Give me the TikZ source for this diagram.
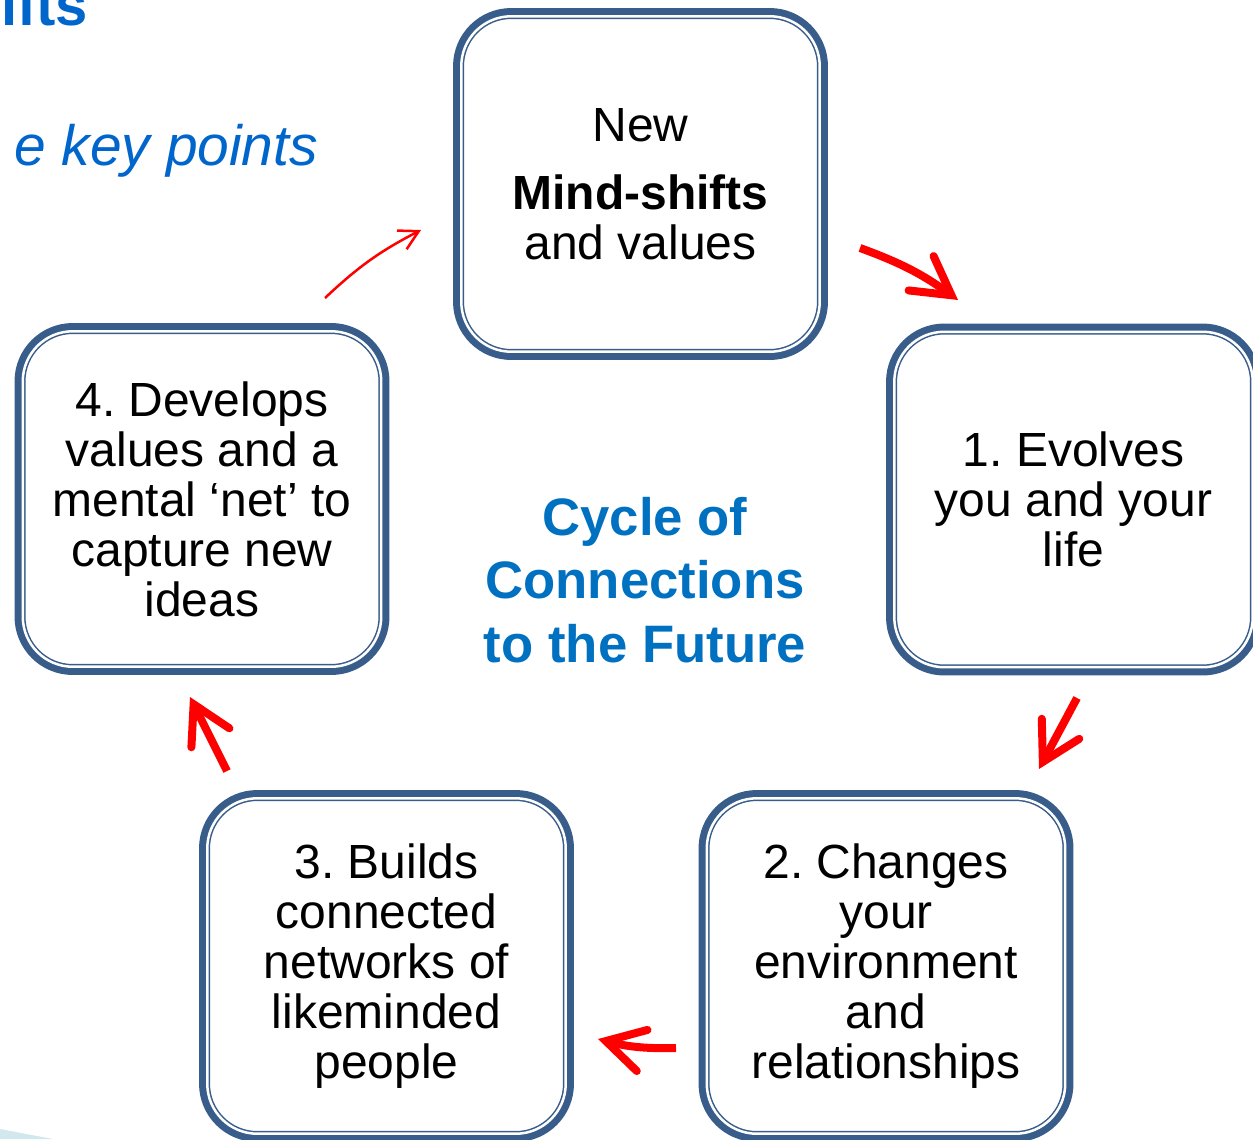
\documentclass[tikz,border=0pt]{standalone}
\usepackage{fontspec}
\setmainfont{Liberation Sans}
\usepackage{xcolor}
\definecolor{boxBlue}{HTML}{385D8A}
\definecolor{titleBlue}{HTML}{0066CC}
\definecolor{cycleBlue}{HTML}{0070C0}
\definecolor{arrowRed}{HTML}{FF0000}
\definecolor{paleBlue}{HTML}{D3E7EF}
\usepackage{tikz}
\usetikzlibrary{positioning}
\usetikzlibrary{arrows.meta}
\frenchspacing

\begin{document}
\begin{tikzpicture}[
	box/.style = { rectangle, rounded corners = 1cm, fill = white, draw = boxBlue, line width = 0.11cm, preaction = {draw = boxBlue, line width = 0.33cm}, postaction = {draw = white, line width = 0.05cm}, minimum width = 7.17cm, minimum height = 6.71cm, inner sep = 0pt, align = center, text = black, font = \fontsize{27.3}{28.45}\selectfont },
	cycle/.style = { align = center, text = cycleBlue, font = \bfseries\fontsize{30}{36.1}\selectfont },
	heading/.style = { inner sep = 0pt, outer sep = 0pt, text = titleBlue },
	flow/.style = { arrowRed, line width = 0.16cm, -{Straight Barb[length = 0.75cm, width = 0.85cm, line cap = round]} },
	hint/.style = { arrowRed, line width = 0.05cm, -{Straight Barb[length = 0.38cm, width = 0.42cm]} },
	]
	\def\oneUnit{0.02cm}
	
	\useasboundingbox (0,0) rectangle (1253*\oneUnit,-1139*\oneUnit);
	
	\fill[paleBlue] (0,-1129*\oneUnit) -- (53*\oneUnit,-1139*\oneUnit) -- (0,-1139*\oneUnit) -- cycle;
	
	\node[heading, anchor = base east, font = \bfseries\fontsize{33}{40}\selectfont] (titleIFTS) at (88*\oneUnit,-25*\oneUnit) {ifts};
	\node[heading, anchor = base east, font = \itshape\fontsize{32.4}{39}\selectfont] (titleKEY) at (318*\oneUnit,-165*\oneUnit) {e key points};
	
	\node[box] (NEW) at (640.5*\oneUnit,-184*\oneUnit) {New\\[0.36cm]\textbf{Mind-shifts}\\and values};
	\node[box] (EVOLVES) at (1073.5*\oneUnit,-499.5*\oneUnit) {1. Evolves\\you and your\\life};
	\node[box] (CHANGES) at (886*\oneUnit,-966*\oneUnit) {2. Changes\\your\\environment\\and\\relationships};
	\node[box] (BUILDS) at (386.5*\oneUnit,-966*\oneUnit) {3. Builds\\connected\\networks of\\likeminded\\people};
	\node[box] (DEVELOPS) at (202*\oneUnit,-499*\oneUnit) {4. Develops\\values and a\\mental ‘net’ to\\capture new\\ideas};
	
	\node[cycle] (CYCLE) at (645*\oneUnit,-580*\oneUnit) {Cycle of\\Connections\\to the Future};
	
	\coordinate (arr1Start) at (860*\oneUnit,-248*\oneUnit);
	\coordinate (arr1End) at (958*\oneUnit,-300*\oneUnit);
	\coordinate (arr2Start) at (1077*\oneUnit,-698*\oneUnit);
	\coordinate (arr2End) at (1039*\oneUnit,-769*\oneUnit);
	\coordinate (arr3Start) at (676*\oneUnit,-1048*\oneUnit);
	\coordinate (arr3End) at (598*\oneUnit,-1039*\oneUnit);
	\coordinate (arr4Start) at (227*\oneUnit,-771*\oneUnit);
	\coordinate (arr4End) at (190*\oneUnit,-697*\oneUnit);
	\coordinate (arr5Start) at (325*\oneUnit,-298*\oneUnit);
	\coordinate (arr5End) at (421*\oneUnit,-230*\oneUnit);
	
	\path[flow] (arr1Start) edge [bend left = 8] (arr1End);
	\path[flow] (arr2Start) edge [] (arr2End);
	\path[flow] (arr3Start) edge [bend left = 8] (arr3End);
	\path[flow] (arr4Start) edge [] (arr4End);
	\path[hint] (arr5Start) edge [bend left = 8] (arr5End);
	
\end{tikzpicture}
\end{document}
